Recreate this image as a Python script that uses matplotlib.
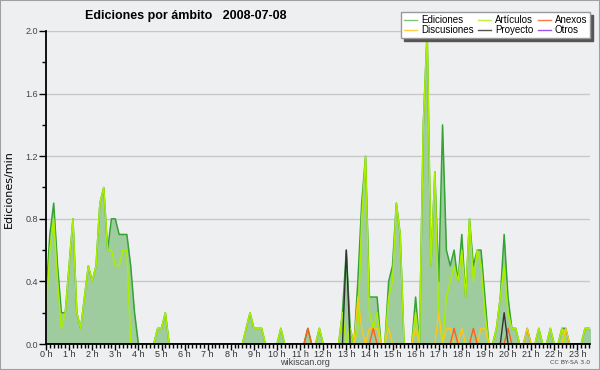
import matplotlib
matplotlib.use("Agg")
import matplotlib.pyplot as plt
from matplotlib.lines import Line2D
from matplotlib.patches import Rectangle
import numpy as np

# Ediciones por ambito, 2008-07-08, one value every 10 minutes (edits/min)
ediciones = [
    0.3, 0.7, 0.9, 0.5, 0.2, 0.2,   # 0 h
    0.5, 0.8, 0.2, 0.1, 0.3, 0.5,   # 1 h
    0.4, 0.5, 0.9, 1.0, 0.6, 0.8,   # 2 h
    0.8, 0.7, 0.7, 0.7, 0.5, 0.2,   # 3 h
    0, 0, 0, 0, 0, 0.1,             # 4 h
    0.1, 0.2, 0, 0, 0, 0,           # 5 h
    0, 0, 0, 0, 0, 0,               # 6 h
    0, 0, 0, 0, 0, 0,               # 7 h
    0, 0, 0, 0, 0.1, 0.2,           # 8 h
    0.1, 0.1, 0.1, 0, 0, 0,         # 9 h
    0, 0.1, 0, 0, 0, 0,             # 10 h
    0, 0, 0.1, 0, 0, 0.1,           # 11 h
    0, 0, 0, 0, 0, 0.2,             # 12 h
    0.6, 0.1, 0, 0.4, 0.9, 1.2,     # 13 h
    0.3, 0.3, 0.3, 0, 0, 0.4,       # 14 h
    0.5, 0.9, 0.7, 0, 0, 0,         # 15 h
    0.3, 0, 1.4, 2.0, 0.5, 1.1,     # 16 h
    0.4, 1.4, 0.6, 0.5, 0.6, 0.4,   # 17 h
    0.7, 0.3, 0.8, 0.5, 0.6, 0.6,   # 18 h
    0.3, 0, 0, 0.1, 0.3, 0.7,       # 19 h
    0.3, 0.1, 0.1, 0, 0, 0.1,       # 20 h
    0, 0, 0.1, 0, 0, 0.1,           # 21 h
    0, 0, 0.1, 0.1, 0, 0,           # 22 h
    0, 0, 0.1, 0.1, 0.1, 0.1,       # 23 h
]
articulos = [
    0.2, 0.6, 0.8, 0.4, 0.1, 0.2,
    0.5, 0.8, 0.2, 0.1, 0.3, 0.5,
    0.4, 0.5, 0.9, 1.0, 0.6, 0.6,
    0.5, 0.5, 0.6, 0.6, 0, 0,
    0, 0, 0, 0, 0, 0.1,
    0.1, 0.2, 0, 0, 0, 0,
    0, 0, 0, 0, 0, 0,
    0, 0, 0, 0, 0, 0,
    0, 0, 0, 0, 0.1, 0.2,
    0.1, 0.1, 0.1, 0, 0, 0,
    0, 0.1, 0, 0, 0, 0,
    0, 0, 0, 0, 0, 0.1,
    0, 0, 0, 0, 0, 0.2,
    0, 0.1, 0, 0.1, 0.8, 1.2,
    0.2, 0.1, 0.2, 0, 0, 0.3,
    0.4, 0.9, 0.7, 0, 0, 0,
    0.2, 0, 1.4, 2.0, 0.5, 1.1,
    0.2, 0, 0.3, 0.4, 0.5, 0.4,
    0.6, 0.3, 0.8, 0.4, 0.6, 0.5,
    0.2, 0, 0, 0.1, 0.3, 0.5,
    0.2, 0.1, 0.1, 0, 0, 0,
    0, 0, 0.1, 0, 0, 0.1,
    0, 0, 0.1, 0, 0, 0,
    0, 0, 0.1, 0.1, 0.1, 0.1,
]
# sparse series: {slot index: value}
discusiones = {81: 0.3, 82: 0.1, 84: 0.1, 85: 0.1, 86: 0.1, 89: 0.1, 96: 0.1,
               102: 0.2, 104: 0.1, 105: 0.1, 108: 0.1, 113: 0.1, 114: 0.1,
               125: 0.1, 135: 0.1}
anexos = {68: 0.1, 85: 0.1, 106: 0.1, 111: 0.1, 120: 0.1}
proyecto = {78: 0.6, 119: 0.2}
otros = {}

hour_labels = [f"{h} h" for h in range(24)]

n = len(ediciones)
t = np.arange(n) / 6.0


def full(d):
    v = np.zeros(n)
    for k, val in d.items():
        v[k] = val
    return v


bg = "#eeeff1"
fig = plt.figure(figsize=(6, 3.7), dpi=100, facecolor=bg)
ax = fig.add_axes([46 / 600, 1 - 344 / 370, 544 / 600, 313 / 370])
ax.set_facecolor(bg)

ax.fill_between(t, 0, ediciones, color="#9fcc9f", lw=0, zorder=1)
ax.plot(t, ediciones, color="#34a334", lw=1.1, zorder=2)
ax.plot(t, articulos, color="#aaee00", lw=1.1, zorder=2.1)
ax.plot(t, full(discusiones), color="#ffc61a", lw=1.0, zorder=2.2)
ax.plot(t, full(anexos), color="#ff5f1a", lw=1.0, zorder=2.3)
ax.plot(t, full(otros), color="#9944ee", lw=1.0, zorder=2.3)
ax.plot(t, full(proyecto), color="#333333", lw=1.0, zorder=2.4)

ax.set_xlim(0, 544 / 23.1)
ax.set_ylim(0, 2.0)

ax.set_yticks(np.arange(0, 2.01, 0.4))
ax.set_yticks(np.arange(0.2, 2.0, 0.4), minor=True)
ax.set_yticklabels([f"{v:.1f}" for v in np.arange(0, 2.01, 0.4)])
ax.set_xticks(range(24))
ax.set_xticklabels(hour_labels)
ax.set_xticks(np.arange(0, 23.6, 1 / 6), minor=True)

ax.grid(axis="y", color="#c8c8c8", lw=1, zorder=0)
ax.set_axisbelow(True)
for s in ["top", "right"]:
    ax.spines[s].set_visible(False)
for s in ["left", "bottom"]:
    ax.spines[s].set_color("black")
    ax.spines[s].set_linewidth(1.3)
    ax.spines[s].set_zorder(5)

ax.tick_params(axis="x", which="major", length=4, width=1, pad=0.5,
               labelsize=6, labelcolor="#333333")
ax.tick_params(axis="x", which="minor", length=3, width=1)
ax.tick_params(axis="y", which="major", length=5, width=1, pad=1,
               labelsize=6, labelcolor="#444444")
ax.tick_params(axis="y", which="minor", length=3, width=1)
for lab in ax.get_xticklabels() + ax.get_yticklabels():
    lab.set_family("Liberation Sans")
    lab.set_fontsize(6.5)

fig.text(85 / 600, 1 - 18.5 / 370, "Ediciones por ámbito   2008-07-08",
         fontsize=9, fontweight="bold", family="Liberation Sans",
         va="baseline", ha="left")
fig.text(9 / 600, 0.49, "Ediciones/min", rotation=90, fontsize=8,
         va="center", ha="center")
fig.text(305 / 600, 1 - 362.5 / 370, "wikiscan.org", fontsize=6.5,
         family="Liberation Sans", color="#444444", va="center", ha="center")
fig.text(590 / 600, 1 - 362.5 / 370, "CC BY-SA 3.0", fontsize=4.5,
         color="#444444", va="center", ha="right")

handles = [
    Line2D([], [], color="#7fc77f", lw=1),
    Line2D([], [], color="#ffcc44", lw=1),
    Line2D([], [], color="#c4ee44", lw=1),
    Line2D([], [], color="#555555", lw=1),
    Line2D([], [], color="#ff7744", lw=1),
    Line2D([], [], color="#9955ee", lw=1),
]
labels = ["Ediciones", "Discusiones", "Artículos", "Proyecto", "Anexos", "Otros"]
leg = fig.legend(handles, labels, loc="upper right",
                 bbox_to_anchor=(590 / 600, 1 - 12.5 / 370), ncol=3,
                 prop={"family": "Liberation Sans", "size": 7},
                 frameon=True, fancybox=False, facecolor="white",
                 edgecolor="#999999", framealpha=1,
                 shadow={"color": "#555555", "alpha": 1},
                 handlelength=1.3, handletextpad=0.4, columnspacing=0.5,
                 labelspacing=0.0, borderpad=0.3, borderaxespad=0)
leg.set_zorder(10)

fig.patches.append(Rectangle((0, 0), 1, 1, transform=fig.transFigure,
                             fill=False, edgecolor="#a0a0a0", lw=1.5))

fig.savefig("out.png", dpi=100, facecolor=bg)
